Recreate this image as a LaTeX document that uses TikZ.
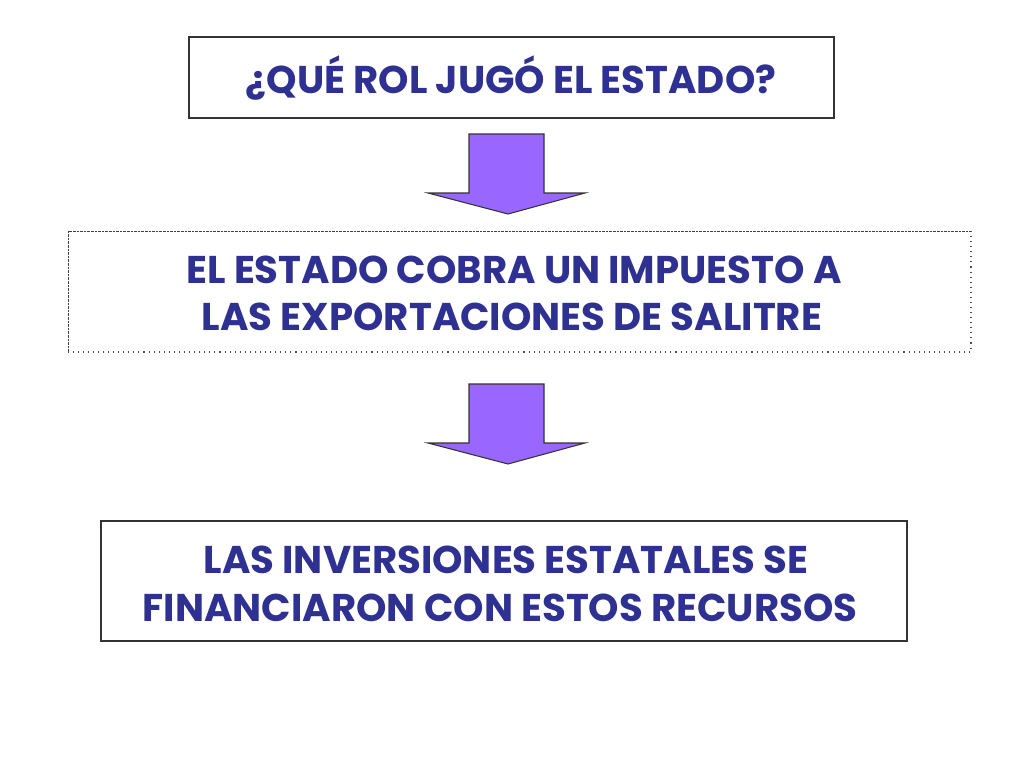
\documentclass[tikz,border=0pt]{standalone}
\usepackage{fontspec}
\setmainfont{Poppins}
\definecolor{txtblue}{RGB}{46,49,146}
\definecolor{arrowfill}{RGB}{153,102,255}
\begin{document}
\begin{tikzpicture}[x=0.75pt,y=-0.75pt,
  boxtext/.style={text=txtblue,font=\bfseries\fontsize{29}{34}\selectfont,inner sep=0pt,anchor=base},
  solidbox/.style={line width=0.8pt,draw=black!80},
  blockarrow/.style={fill=arrowfill,draw=black!80,line width=0.8pt,line join=miter}]
\useasboundingbox (0,0) rectangle (1024,768);
\fill[white] (0,0) rectangle (1024,768);
% box 1
\draw[solidbox] (189,37) rectangle (834,118);
\node[boxtext] (q) at (511,93) {¿QUÉ ROL JUGÓ EL ESTADO?};
% box 2
\draw[line width=0.7pt,draw=black!75,dash pattern=on 2pt off 0.7pt] (68,352) -- (68,231) -- (971,231);
\draw[line width=0.8pt,draw=black!70,dash pattern=on 0.8pt off 3pt] (971,231) -- (971,352) -- (68,352);
\node[boxtext] (imp1) at (514,283) {EL ESTADO COBRA UN IMPUESTO A};
\node[boxtext] (imp2) at (512,330) {LAS EXPORTACIONES DE SALITRE};
% box 3
\draw[solidbox] (101,521) rectangle (907,641);
\node[boxtext] (inv1) at (506,573) {LAS INVERSIONES ESTATALES SE};
\node[boxtext] (inv2) at (500,621) {FINANCIARON CON ESTOS RECURSOS};
% arrows
\draw[blockarrow] (469,134) -- (544,134) -- (544,193) -- (585,193) -- (508,214) -- (428,193) -- (469,193) -- cycle;
\draw[blockarrow] (469,384) -- (544,384) -- (544,443) -- (585,443) -- (508,464) -- (428,443) -- (469,443) -- cycle;
\end{tikzpicture}
\end{document}
